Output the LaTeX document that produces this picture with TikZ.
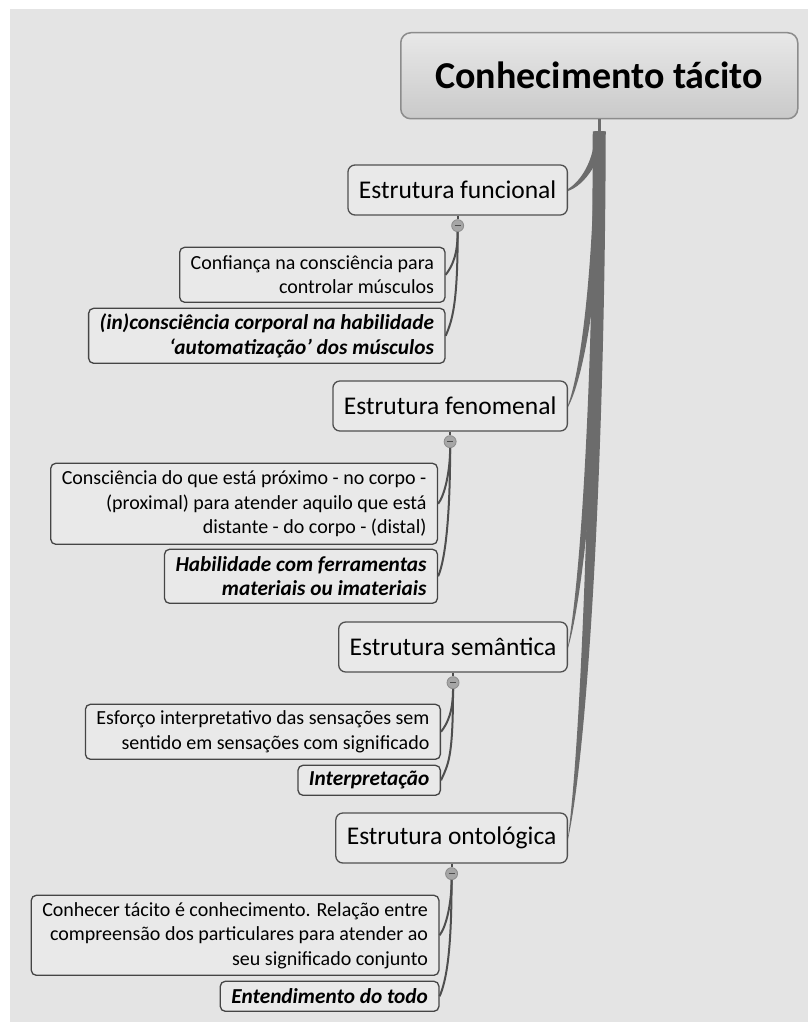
\documentclass[tikz,border=0pt]{standalone}
\usepackage{fontspec}
\setmainfont{Carlito}
\usetikzlibrary{calc}

\definecolor{bg}{HTML}{E4E4E4}
\definecolor{nodefill}{HTML}{E9E9E9}
\definecolor{rootedge}{HTML}{8C8C8C}
\definecolor{branchedge}{HTML}{505050}
\definecolor{leafedge}{HTML}{454545}
\definecolor{trunkcol}{HTML}{6C6C6C}
\definecolor{linkcol}{HTML}{4E4E4E}
\colorlet{rootlight}{black!9}
\colorlet{rootdark}{black!21}

\tikzset{
  rootbox/.style={draw=rootedge, line width=1.5pt, rounded corners=10pt,
    top color=rootlight, bottom color=rootdark, minimum width=397pt, minimum height=86pt,
    font=\fontsize{38}{45}\selectfont\bfseries, inner sep=0pt},
  branchbox/.style={draw=branchedge, line width=1.3pt, rounded corners=7pt, fill=nodefill,
    minimum height=50pt, inner xsep=11pt, inner ysep=0pt,
    font=\fontsize{25.5}{31}\selectfont},
  leafbox/.style={draw=leafedge, line width=1.3pt, rounded corners=5pt, fill=nodefill,
    align=right, inner xsep=11pt, inner ysep=0pt, anchor=north east,
    font=\fontsize{20}{24.5}\selectfont},
  leafbold/.style={leafbox, font=\fontsize{21.3}{24.5}\selectfont\bfseries\itshape},
  toggle/.style={circle, minimum size=12pt, inner sep=0pt, fill=gray!70, draw=gray!90,
    line width=0.8pt,
    path picture={\draw[black!70, line width=1pt]
      ($(path picture bounding box.center)+(-3,0)$) -- ++(6,0);}},
  linkline/.style={draw=linkcol, line width=2pt},
  stemline/.style={draw=trunkcol, line width=2.5pt},
}

% tapered main branch from the stem to the right side of a branch node
% #1 = node name, #2 = half width at the stem
\newcommand\trunkbranch[2]{%
  \fill[trunkcol] let \p0=(stem), \p1=(#1.east), \n1={\y0-\y1} in
    ({\x0-#2},\y0)
    .. controls ({\x0-#2-1},{\y0-0.5*\n1}) and ({\x1+15-0.5*#2},{\y1+0.12*\n1+0.5*#2})
    .. ({\x1},{\y1+1})
    -- ({\x1},{\y1-1})
    .. controls ({\x1+15+0.5*#2},{\y1+0.12*\n1-0.5*#2}) and ({\x0+#2-1},{\y0-0.5*\n1})
    .. ({\x0+#2},\y0) -- cycle;}

\begin{document}
\begin{tikzpicture}[x=1pt,y=-1pt]
\useasboundingbox (0,0) rectangle (808,1022);
\fill[white] (0,0) rectangle (808,1022);
\fill[bg] (10,9) rectangle (808,1022);

% central topic
\node[rootbox, anchor=north west] (root) at (400,32) {Conhecimento tácito};
\coordinate (stem) at ($(root.south)+(0,12)$);

% main branches
\node[branchbox, anchor=east] (fun) at (568,190) {Estrutura funcional};
\node[branchbox, anchor=east] (fen) at (568,406) {Estrutura fenomenal};
\node[branchbox, anchor=east] (sem) at (568,647) {Estrutura semântica};
\node[branchbox, anchor=east] (ont) at (568,838) {Estrutura ontológica};

% collapse toggles
\node[toggle] (tfun) at ($(fun.south)+(0,10)$) {};
\node[toggle] (tfen) at ($(fen.south)+(0,10)$) {};
\node[toggle] (tsem) at ($(sem.south)+(0,10)$) {};
\node[toggle] (tont) at ($(ont.south)+(0,10)$) {};

% sub-topics
\node[leafbox, minimum height=55pt] (fun1) at ($(tfun)+(-12,21)$)
  {Confiança na consciência para\\controlar músculos};
\node[leafbold, minimum height=55pt] (fun2) at ($(tfun)+(-12,82)$)
  {(in)consciência corporal na habilidade\\‘automatização’ dos músculos};

\node[leafbox, minimum height=81pt] (fen1) at ($(tfen)+(-12,21)$)
  {Consciência do que está próximo - no corpo -\\(proximal) para atender aquilo que está\\distante - do corpo - (distal)};
\node[leafbold, minimum height=54pt] (fen2) at ($(tfen)+(-12,107)$)
  {Habilidade com ferramentas\\materiais ou imateriais};

\node[leafbox, minimum height=55pt] (sem1) at ($(tsem)+(-12,21)$)
  {Esforço interpretativo das sensações sem\\sentido em sensações com significado};
\node[leafbold, minimum height=30pt] (sem2) at ($(tsem)+(-12,82)$)
  {Interpretação};

\node[leafbox, minimum height=80pt] (ont1) at ($(tont)+(-12,21)$)
  {Conhecer tácito é conhecimento. Relação entre\\compreensão dos particulares para atender ao\\seu significado conjunto};
\node[leafbold, minimum height=30pt] (ont2) at ($(tont)+(-12,107)$)
  {Entendimento do todo};

% trunk from the central topic
\draw[stemline] (root.south) -- (stem);
\trunkbranch{ont}{6.5}
\trunkbranch{sem}{5.5}
\trunkbranch{fen}{4.5}
\trunkbranch{fun}{4}

% links from branches to their sub-topics
\foreach \b in {fun,fen,sem,ont}{
  \draw[linkline] (\b.south) -- (t\b.north);
  \draw[linkline] (t\b.south) .. controls +(0,22) and +(7,-9) .. (\b1.east);
  \draw[linkline] (t\b.south) .. controls +(0,70) and +(7,-16) .. (\b2.east);
}
\end{tikzpicture}
\end{document}
